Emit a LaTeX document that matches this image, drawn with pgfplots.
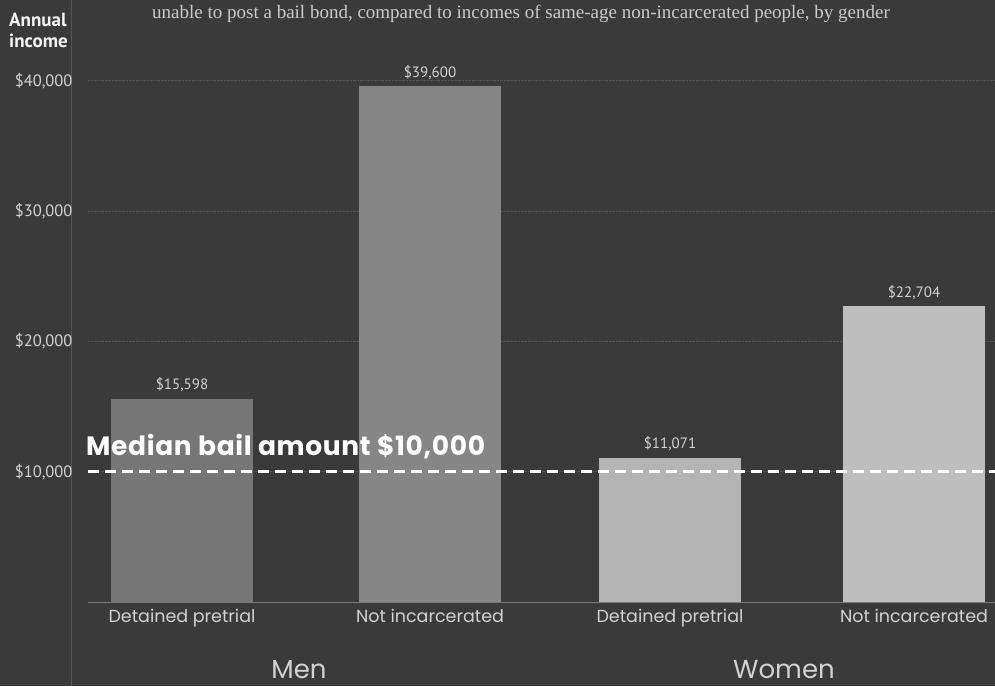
\documentclass[border=0pt]{standalone}
\usepackage{fontspec}
\setmainfont{PT Sans}
\newfontfamily\futura{Poppins}
\newfontfamily\futuraW[LetterSpace=2.5]{Poppins}
\newfontfamily\serif{Liberation Serif}
\usepackage{pgfplots}
\pgfplotsset{compat=1.18}

\definecolor{bg}{HTML}{3A3A3A}
\definecolor{gridc}{HTML}{575757}
\definecolor{menA}{HTML}{767676}
\definecolor{menB}{HTML}{868686}
\definecolor{womA}{HTML}{B4B4B4}
\definecolor{womB}{HTML}{BEBEBE}
\definecolor{txt}{HTML}{D2D2D2}

\begin{document}
\begin{tikzpicture}
\useasboundingbox (0,0) rectangle (995pt,686pt);
\fill[bg] (0,0) rectangle (995pt,686pt);
\draw[gridc, line width=0.8pt] (71pt,0) -- (71pt,686pt);

\begin{axis}[
  at={(88pt,84pt)}, anchor=south west,
  scale only axis,
  width=907pt, height=602pt,
  xmin=88, xmax=995,
  ymin=0, ymax=46200,
  axis line style={draw=none},
  tick style={draw=none},
  /pgf/number format/assume math mode=true,
  ytick={10000,20000,30000,40000},
  yticklabels={{\$10,000},{\$20,000},{\$30,000},{\$40,000}},
  yticklabel style={font=\fontsize{16.5}{18}\selectfont, text=txt, xshift=-12pt},
  xtick={182,430,670,914},
  xticklabels={Detained pretrial, Not incarcerated, Detained pretrial, Not incarcerated},
  xticklabel style={font=\futura\fontsize{17.5}{20}\selectfont, text=txt, yshift=-4pt},
  ymajorgrids=true,
  grid style={gridc, densely dotted, line width=0.7pt},
  every node near coord/.append style={font=\fontsize{15}{17}\selectfont, text=txt, yshift=3pt},
  ]

  \addplot[ybar, bar width=142pt, fill=menA, draw=none,
    nodes near coords={\$15,598}] coordinates {(182,15598)};
  \addplot[ybar, bar width=142pt, fill=menB, draw=none,
    nodes near coords={\$39,600}] coordinates {(430,39600)};
  \addplot[ybar, bar width=142pt, fill=womA, draw=none,
    nodes near coords={\$11,071}] coordinates {(670,11071)};
  \addplot[ybar, bar width=142pt, fill=womB, draw=none,
    nodes near coords={\$22,704}] coordinates {(914,22704)};

  % median bail amount
  \addplot[white, line width=3pt, dash pattern=on 11pt off 6pt] coordinates {(88,10000) (995,10000)};
\end{axis}

\draw[gridc!80!white, line width=0.8pt] (88pt,84pt) -- (995pt,84pt);

\node[anchor=base west, inner sep=0, text=white,
  font=\futuraW\bfseries\fontsize{26.5}{28}\selectfont] at (86pt,231pt) {Median bail amount \$10,000};

\node[anchor=base, inner sep=0, text=txt!90!gray,
  font=\serif\fontsize{19}{21}\selectfont] at (521pt,667pt)
  {unable to post a bail bond, compared to incomes of same-age non-incarcerated people, by gender};

\node[anchor=base west, inner sep=0, align=left, text=white!92!gray,
  font=\bfseries\fontsize{19}{21}\selectfont] at (9pt,638pt) {Annual\\income};

\node[anchor=base, inner sep=0, text=txt,
  font=\futura\fontsize{26}{28}\selectfont] at (299pt,8pt) {Men};
\node[anchor=base, inner sep=0, text=txt,
  font=\futura\fontsize{26}{28}\selectfont] at (784pt,8pt) {Women};
\end{tikzpicture}
\end{document}
